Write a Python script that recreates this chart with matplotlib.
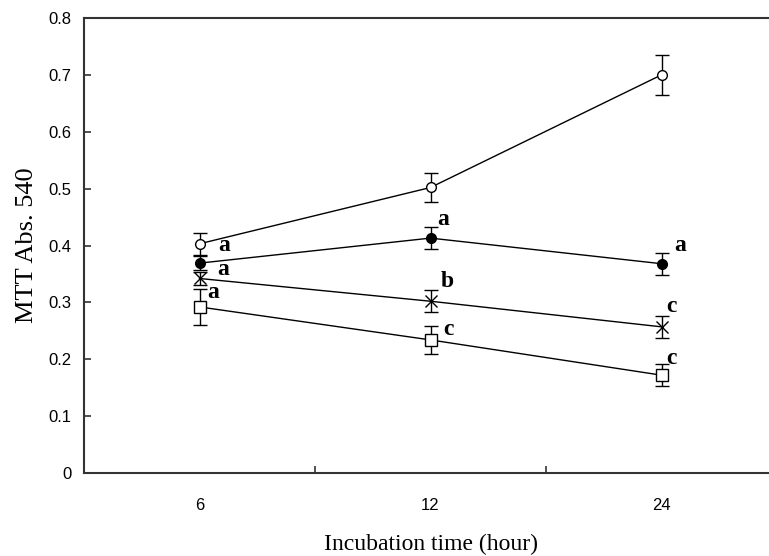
import matplotlib
matplotlib.use("Agg")
import matplotlib.pyplot as plt

categories = ["6", "12", "24"]
open_circle = [0.403, 0.502, 0.700]
open_circle_err = [0.019, 0.025, 0.035]
filled_circle = [0.369, 0.413, 0.368]
filled_circle_err = [0.012, 0.02, 0.019]
cross = [0.342, 0.302, 0.257]
cross_err = [0.012, 0.019, 0.019]
square = [0.292, 0.234, 0.172]
square_err = [0.031, 0.025, 0.019]

letters = ["a", "a", "a", "a", "b", "c", "a", "c", "c"]
letter_x = [0.580, 0.576, 0.532, 1.528, 1.545, 1.554, 2.554, 2.519, 2.519]
letter_y = [0.390, 0.348, 0.308, 0.436, 0.327, 0.243, 0.390, 0.283, 0.192]

tick_font = "Liberation Sans"
serif = "Liberation Serif"

fig = plt.figure(figsize=(7.69, 5.56), dpi=100)
ax = fig.add_axes([84/769, 1-473/556, 693/769, (473-18)/556])

x = [0.5, 1.5, 2.5]
ekw = dict(color="black", lw=1.0, capsize=5, capthick=1.0, elinewidth=1.0)
ax.errorbar(x, open_circle, yerr=open_circle_err, marker="o", ms=7, mfc="white", mec="black", mew=1.0, **ekw)
ax.errorbar(x, filled_circle, yerr=filled_circle_err, marker="o", ms=7, mfc="black", mec="black", mew=1.0, **ekw)
ax.errorbar(x, cross, yerr=cross_err, marker="x", ms=8, mec="black", mew=1.0, **ekw)
ax.errorbar(x, square, yerr=square_err, marker="s", ms=8, mfc="white", mec="black", mew=1.0, **ekw)

for t, lx, ly in zip(letters, letter_x, letter_y):
    ax.text(lx, ly, t, fontsize=17, fontweight="bold", family=serif, ha="left", va="baseline")

ax.set_xlim(0, 3)
ax.set_ylim(0, 0.8)
ax.set_yticks([i/10 for i in range(9)])
ax.set_yticklabels(["0"] + [f"{i/10:.1f}" for i in range(1, 9)], family=tick_font, fontsize=12)
ax.set_xticks([1, 2])
ax.set_xticklabels([])
ax.set_xticks(x, minor=True)
ax.set_xticklabels(categories, minor=True, family=tick_font, fontsize=12)
ax.tick_params(axis="x", which="minor", length=0, pad=18)
ax.tick_params(axis="x", which="major", direction="in", length=5, width=1.2, color="#333333")
ax.tick_params(axis="y", direction="in", length=5, width=1.2, color="#333333", pad=9)

for s in ["left", "bottom", "top"]:
    ax.spines[s].set_linewidth(1.5)
    ax.spines[s].set_color("#333333")
ax.spines["right"].set_visible(False)

fig.text(431/769, 1-544/556, "Incubation time (hour)", family=serif, fontsize=17, ha="center", va="center")
fig.text(27/769, 1-245/556, "MTT Abs. 540", family=serif, fontsize=19, ha="center", va="center", rotation=90)

fig.savefig("out.png", dpi=100)
